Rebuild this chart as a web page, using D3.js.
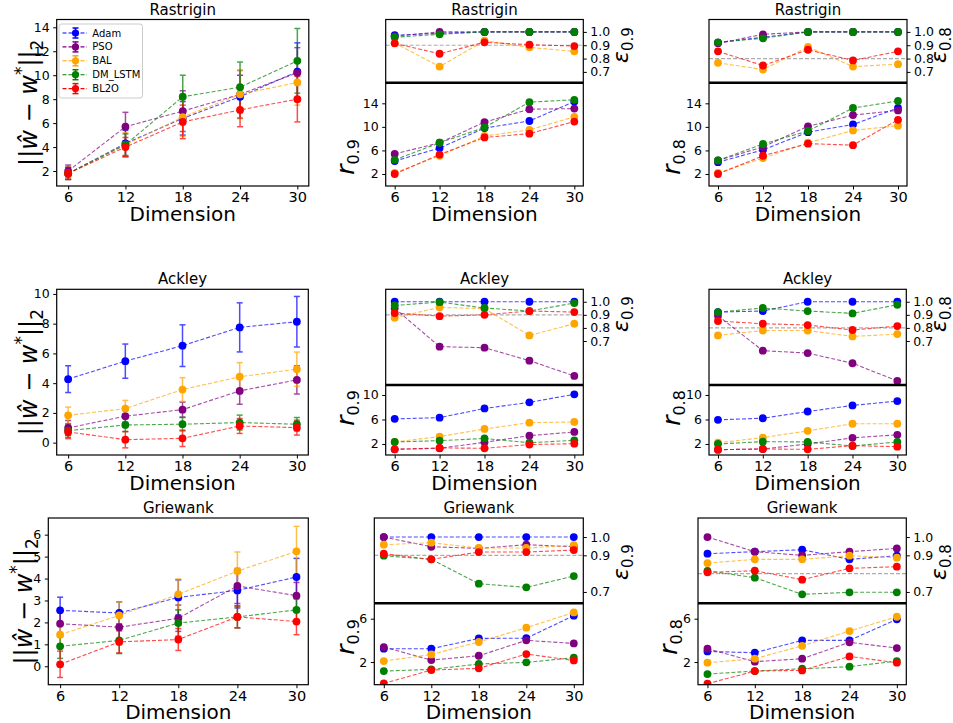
<!DOCTYPE html>
<html>
<head>
<meta charset="utf-8">
<script src="https://cdn.jsdelivr.net/npm/d3@7"></script>
<style>
  body { margin: 0; background: #fff; }
  svg { display: block; font-family: "DejaVu Sans", sans-serif; }
  .tick text { fill: #000; }
  .xaxis .tick text { font-size: 14.5px; }
  .yaxis .tick text { font-size: 12.5px; }
  .tick line { stroke: #000; stroke-width: 1; }
</style>
</head>
<body>
<svg id="chart" width="953" height="723"></svg>
<script>
// ── data ────────────────────────────────────────────────────────────────────
const DIMS = [6, 12, 18, 24, 30];
const METHODS = ['Adam', 'PSO', 'BAL', 'DM_LSTM', 'BL2O'];
const METHOD_COLORS = ['blue', 'purple', 'orange', 'green', 'red'];

// rows = methods (Adam, PSO, BAL, DM_LSTM, BL2O), columns = dimensions
const rastriginErr = [[1.8, 4.3, 6.4, 8.2, 10.3], [2.0, 5.7, 7.0, 8.4, 10.2], [1.8, 4.2, 6.5, 8.4, 9.4], [1.8, 4.2, 8.2, 9.0, 11.2], [1.8, 4.0, 6.1, 7.1, 8.0]];
const rastriginStd = [[0.5, 1.1, 1.4, 1.8, 2.4], [0.5, 1.2, 1.7, 2.0, 2.1], [0.5, 1.0, 1.6, 2.0, 1.9], [0.5, 0.9, 1.8, 2.1, 2.7], [0.5, 0.8, 1.4, 1.4, 1.9]];
const rastriginEps09 = [[0.975, 0.99, 1.0, 1.0, 1.0], [0.967, 1.0, 1.0, 1.0, 1.0], [0.917, 0.74, 0.934, 0.884, 0.854], [0.96, 0.982, 1.0, 1.0, 1.0], [0.914, 0.836, 0.922, 0.904, 0.894]];
const rastriginR09 = [[4.2, 6.4, 9.8, 11.0, 14.3], [5.4, 7.3, 10.8, 13.0, 13.1], [2.2, 5.1, 8.45, 9.5, 11.7], [4.4, 7.3, 9.9, 14.2, 14.6], [2.0, 5.3, 8.2, 8.85, 10.9]];
const rastriginEps08 = [[0.92, 0.96, 1.0, 1.0, 1.0], [0.914, 0.982, 1.0, 1.0, 1.0], [0.768, 0.718, 0.887, 0.74, 0.758], [0.922, 0.952, 1.0, 1.0, 1.0], [0.854, 0.748, 0.866, 0.786, 0.854]];
const rastriginR08 = [[4.0, 6.1, 9.1, 10.4, 13.2], [4.3, 6.6, 10.1, 12.0, 12.8], [2.2, 4.7, 7.3, 9.4, 10.2], [4.3, 7.1, 9.3, 13.2, 14.4], [2.0, 5.1, 7.15, 6.9, 11.2]];

const ackleyErr = [[4.27, 5.48, 6.52, 7.75, 8.13], [0.99, 1.78, 2.22, 3.48, 4.22], [1.84, 2.29, 3.57, 4.43, 4.94], [0.81, 1.19, 1.24, 1.35, 1.24], [0.72, 0.2, 0.29, 1.12, 1.01]];
const ackleyStd = [[0.9, 1.15, 1.4, 1.65, 1.7], [0.5, 0.4, 0.5, 0.9, 0.95], [0.55, 0.55, 0.8, 0.95, 1.15], [0.45, 0.45, 0.45, 0.5, 0.45], [0.45, 0.55, 0.55, 0.5, 0.5]];
const ackleyEps09 = [[1.0, 1.0, 1.0, 1.0, 1.0], [0.95, 0.657, 0.649, 0.55, 0.433], [0.878, 0.957, 0.947, 0.743, 0.832], [0.972, 0.997, 0.952, 0.929, 0.99], [0.914, 0.89, 0.9, 0.929, 0.921]];
const ackleyR09 = [[6.1, 6.3, 7.8, 8.8, 10.1], [1.13, 1.3, 2.27, 3.36, 3.96], [2.33, 3.2, 4.45, 5.48, 5.6], [2.33, 2.54, 2.9, 2.2, 2.6], [1.13, 1.35, 1.3, 1.9, 2.05]];
const ackleyEps08 = [[0.921, 0.929, 1.0, 1.0, 1.0], [0.893, 0.626, 0.608, 0.53, 0.395], [0.743, 0.78, 0.78, 0.735, 0.753], [0.921, 0.952, 0.929, 0.911, 0.977], [0.853, 0.832, 0.822, 0.784, 0.814]];
const ackleyR08 = [[5.95, 6.2, 7.3, 8.3, 9.0], [1.07, 1.18, 2.0, 3.0, 3.5], [2.2, 3.04, 4.14, 5.3, 5.3], [2.0, 2.38, 2.33, 1.67, 2.33], [1.07, 1.18, 1.12, 1.73, 1.56]];

const griewankErr = [[2.55, 2.43, 3.14, 3.46, 4.07], [1.94, 1.78, 2.19, 3.66, 3.22], [1.44, 2.32, 3.28, 4.34, 5.24], [0.91, 1.18, 1.97, 2.25, 2.57], [0.09, 1.11, 1.22, 2.25, 2.04]];
const griewankStd = [[0.6, 0.5, 0.8, 0.8, 0.85], [0.6, 0.6, 0.6, 0.8, 0.6], [0.5, 0.6, 0.7, 0.87, 1.14], [0.55, 0.6, 0.6, 0.5, 0.5], [0.6, 0.5, 0.5, 0.5, 0.6]];
const griewankEps09 = [[1.0, 1.0, 1.0, 1.0, 1.0], [1.0, 0.947, 0.938, 0.958, 0.947], [0.958, 0.969, 0.94, 0.94, 0.956], [0.898, 0.878, 0.745, 0.725, 0.787], [0.909, 0.878, 0.918, 0.918, 0.929]];
const griewankR09 = [[3.23, 3.23, 4.18, 4.2, 6.28], [3.38, 2.18, 2.58, 4.0, 3.72], [2.09, 2.7, 3.85, 5.17, 6.58], [1.17, 1.32, 1.82, 1.97, 2.4], [0.03, 1.26, 1.42, 2.74, 2.15]];
const griewankEps08 = [[0.909, 0.92, 0.931, 0.878, 0.898], [1.0, 0.92, 0.9, 0.92, 0.938], [0.858, 0.878, 0.878, 0.898, 0.887], [0.815, 0.778, 0.687, 0.698, 0.698], [0.807, 0.816, 0.767, 0.829, 0.838]];
const griewankR08 = [[2.98, 2.86, 4.0, 4.0, 5.94], [3.23, 2.03, 2.31, 3.82, 3.29], [1.94, 2.31, 3.5, 4.86, 6.18], [0.89, 1.17, 1.38, 1.57, 2.09], [0.0, 1.17, 1.23, 2.52, 1.94]];

// ── layout (pixels) ─────────────────────────────────────────────────────────
const X_DOMAIN = [4.8, 31.2];
const ROWS = [
  { name: 'Rastrigin', err: rastriginErr, std: rastriginStd,
    eps9: rastriginEps09, r9: rastriginR09, eps8: rastriginEps08, r8: rastriginR08,
    top: 19.5, split: 82.7, bottom: 186,
    left: [56.7, 308.8], mid: [385.7, 583.3], right: [709, 907],
    errDomain: [0.75, 14.65], errTicks: [2, 4, 6, 8, 10, 12, 14],
    epsDomain: [0.619, 1.093], epsTicks: [0.7, 0.8, 0.9, 1.0],
    rDomain: [-0.04, 17.5], rTicks: [2, 6, 10, 14],
    errLabelX: 37, rLabelY: 157, epsLabelY: 45, rLabelXR: 680, legend: true },
  { name: 'Ackley', err: ackleyErr, std: ackleyStd,
    eps9: ackleyEps09, r9: ackleyR09, eps8: ackleyEps08, r8: ackleyR08,
    top: 289.3, split: 385, bottom: 455,
    left: [56.7, 308.3], mid: [385.7, 583.3], right: [709, 906.3],
    errDomain: [-0.83, 10.31], errTicks: [0, 2, 4, 6, 8, 10],
    epsDomain: [0.364, 1.095], epsTicks: [0.7, 0.8, 0.9, 1.0],
    rDomain: [0.2, 11.63], rTicks: [2, 6, 10],
    errLabelX: 37, rLabelY: 408, epsLabelY: 314, rLabelXR: 680 },
  { name: 'Griewank', err: griewankErr, std: griewankStd,
    eps9: griewankEps09, r9: griewankR09, eps8: griewankEps08, r8: griewankR08,
    top: 518, split: 603.3, bottom: 684.7,
    left: [48.3, 308.3], mid: [374.3, 583.3], right: [698, 906.3],
    errDomain: [-0.84, 6.76], errTicks: [0, 1, 2, 3, 4, 5, 6],
    epsDomain: [0.638, 1.104], epsTicks: [0.7, 0.9, 1.0],
    rDomain: [-0.09, 7.42], rTicks: [2, 6],
    errLabelX: 32, rLabelY: 637, epsLabelY: 562, rLabelXR: 677 },
];

const svg = d3.select('#chart');
const defs = svg.append('defs');
let clipCount = 0;

function clipRect(x0, y0, x1, y1) {
  const id = `clip${clipCount++}`;
  defs.append('clipPath').attr('id', id).append('rect')
    .attr('x', x0).attr('y', y0).attr('width', x1 - x0).attr('height', y1 - y0);
  return `url(#${id})`;
}

// Rotated math-style label built from tspans (italic, sub/superscript).
function mathLabel(x, y, parts) {
  const t = svg.append('text').attr('transform', `translate(${x},${y}) rotate(-90)`)
    .attr('text-anchor', 'middle').attr('fill', '#000');
  parts.forEach(p => {
    const s = t.append('tspan').text(p.t).attr('font-size', p.s);
    if (p.i) s.attr('font-style', 'italic');
    if (p.dy) s.attr('dy', p.dy);
  });
}

function styleAxis(g) {
  g.select('.domain').remove();
  g.selectAll('.tick text').attr('font-family', '"DejaVu Sans", sans-serif');
}

// dashed line + round markers for each method
function drawSeries(g, x, y, table, clip) {
  const line = d3.line().x((d, i) => x(DIMS[i])).y(d => y(d));
  const layer = g.append('g').attr('clip-path', clip);
  table.forEach((vals, m) => {
    layer.append('path').attr('d', line(vals)).attr('fill', 'none')
      .attr('stroke', METHOD_COLORS[m]).attr('stroke-width', 1.1)
      .attr('stroke-dasharray', '4,2').attr('opacity', 0.7);
    layer.selectAll(null).data(vals).join('circle')
      .attr('cx', (d, i) => x(DIMS[i])).attr('cy', d => y(d)).attr('r', 3.9)
      .attr('fill', METHOD_COLORS[m]);
  });
}

function frame(x0, y0, x1, y1) {
  svg.append('rect').attr('x', x0).attr('y', y0).attr('width', x1 - x0).attr('height', y1 - y0)
    .attr('fill', 'none').attr('stroke', '#000').attr('stroke-width', 1.2);
}

function xAxisBottom(x, yPos) {
  svg.append('g').attr('class', 'xaxis').attr('transform', `translate(0,${yPos})`)
    .call(d3.axisBottom(x).tickValues(DIMS).tickSize(3.5).tickPadding(2.5))
    .call(styleAxis);
}

function yAxis(scale, xPos, ticks, fmt, right) {
  const ax = right ? d3.axisRight(scale) : d3.axisLeft(scale);
  svg.append('g').attr('class', 'yaxis').attr('transform', `translate(${xPos},0)`)
    .call(ax.tickValues(ticks).tickSize(3.5).tickPadding(3.5).tickFormat(d3.format(fmt)))
    .call(styleAxis);
}

function xLabel(x0, x1, yPos) {
  svg.append('text').attr('x', (x0 + x1) / 2).attr('y', yPos + 34.5)
    .attr('text-anchor', 'middle').attr('font-size', 20).text('Dimension');
}

function title(x0, x1, yTop, name) {
  svg.append('text').attr('x', (x0 + x1) / 2).attr('y', yTop - 5)
    .attr('text-anchor', 'middle').attr('font-size', 15).text(name);
}

// ── left column: error with error bars ──────────────────────────────────────
function drawErrorPanel(row) {
  const [x0, x1] = row.left;
  const x = d3.scaleLinear().domain(X_DOMAIN).range([x0, x1]);
  const y = d3.scaleLinear().domain(row.errDomain).range([row.bottom, row.top]);
  const clip = clipRect(x0, row.top, x1, row.bottom);
  const g = svg.append('g');

  const bars = g.append('g').attr('clip-path', clip);
  row.err.forEach((vals, m) => {
    const c = METHOD_COLORS[m];
    vals.forEach((v, i) => {
      const cx = x(DIMS[i]), lo = y(v - row.std[m][i]), hi = y(v + row.std[m][i]);
      const eb = bars.append('g').attr('stroke', c).attr('stroke-width', 1.5).attr('opacity', 0.7);
      eb.append('line').attr('x1', cx).attr('x2', cx).attr('y1', lo).attr('y2', hi);
      eb.append('line').attr('x1', cx - 3).attr('x2', cx + 3).attr('y1', lo).attr('y2', lo);
      eb.append('line').attr('x1', cx - 3).attr('x2', cx + 3).attr('y1', hi).attr('y2', hi);
    });
  });
  drawSeries(g, x, y, row.err, clip);

  yAxis(y, x0, row.errTicks, 'd', false);
  xAxisBottom(x, row.bottom);
  frame(x0, row.top, x1, row.bottom);
  title(x0, x1, row.top, row.name);
  xLabel(x0, x1, row.bottom);

  mathLabel(row.errLabelX, (row.top + row.bottom) / 2, [
    { t: '||', s: 24 }, { t: 'ŵ', s: 24, i: 1 }, { t: ' − ', s: 24 }, { t: 'w', s: 24, i: 1 },
    { t: '*', s: 17, dy: -10 }, { t: '||', s: 24, dy: 10 }, { t: '2', s: 17, dy: 6 },
  ]);

  if (row.legend) {
    const lg = svg.append('g');
    lg.append('rect').attr('x', 59).attr('y', 24).attr('width', 83.5).attr('height', 74)
      .attr('rx', 2.5).attr('fill', '#fff').attr('fill-opacity', 0.8)
      .attr('stroke', '#cccccc').attr('stroke-width', 1);
    METHODS.forEach((name, m) => {
      const ly = 33 + m * 13.9, c = METHOD_COLORS[m];
      lg.append('line').attr('x1', 62.5).attr('x2', 87).attr('y1', ly).attr('y2', ly)
        .attr('stroke', c).attr('stroke-width', 1.1).attr('stroke-dasharray', '4,2');
      const eb = lg.append('g').attr('stroke', c).attr('stroke-width', 1.5);
      eb.append('line').attr('x1', 75.5).attr('x2', 75.5).attr('y1', ly - 5).attr('y2', ly + 5);
      eb.append('line').attr('x1', 72.5).attr('x2', 78.5).attr('y1', ly - 5).attr('y2', ly - 5);
      eb.append('line').attr('x1', 72.5).attr('x2', 78.5).attr('y1', ly + 5).attr('y2', ly + 5);
      lg.append('circle').attr('cx', 75.5).attr('cy', ly).attr('r', 3.6).attr('fill', c);
      lg.append('text').attr('x', 92.3).attr('y', ly).attr('dy', '0.35em')
        .attr('font-size', 10).text(name);
    });
  }
}

// ── middle / right columns: ε (top, right axis) over r (bottom) ─────────────
function drawSplitPanel(row, xr, epsData, rData, level, rLabelX, epsLabelX) {
  const [x0, x1] = xr;
  const x = d3.scaleLinear().domain(X_DOMAIN).range([x0, x1]);
  const yE = d3.scaleLinear().domain(row.epsDomain).range([row.split, row.top]);
  const yR = d3.scaleLinear().domain(row.rDomain).range([row.bottom, row.split]);

  // reference level
  svg.append('line').attr('x1', x0).attr('x2', x1).attr('y1', yE(level)).attr('y2', yE(level))
    .attr('stroke', '#999').attr('stroke-width', 1.2).attr('stroke-dasharray', '4,2').attr('opacity', 0.8);

  drawSeries(svg.append('g'), x, yE, epsData, clipRect(x0, row.top, x1, row.split));
  drawSeries(svg.append('g'), x, yR, rData, clipRect(x0, row.split, x1, row.bottom));

  yAxis(yE, x1, row.epsTicks, '.1f', true);
  yAxis(yR, x0, row.rTicks, 'd', false);
  xAxisBottom(x, row.bottom);

  frame(x0, row.top, x1, row.bottom);
  svg.append('line').attr('x1', x0).attr('x2', x1).attr('y1', row.split).attr('y2', row.split)
    .attr('stroke', '#000').attr('stroke-width', 2.6);

  title(x0, x1, row.top, row.name);
  xLabel(x0, x1, row.bottom);

  const sub = level.toFixed(1);
  mathLabel(rLabelX, row.rLabelY, [{ t: 'r', s: 25, i: 1 }, { t: sub, s: 16, dy: 5 }]);
  mathLabel(epsLabelX, row.epsLabelY, [{ t: 'ε', s: 22, i: 1 }, { t: sub, s: 15, dy: 4.5 }]);
}

ROWS.forEach(row => {
  drawErrorPanel(row);
  drawSplitPanel(row, row.mid, row.eps9, row.r9, 0.9, 354, 628);
  drawSplitPanel(row, row.right, row.eps8, row.r8, 0.8, row.rLabelXR, 946);
});
</script>
</body>
</html>
